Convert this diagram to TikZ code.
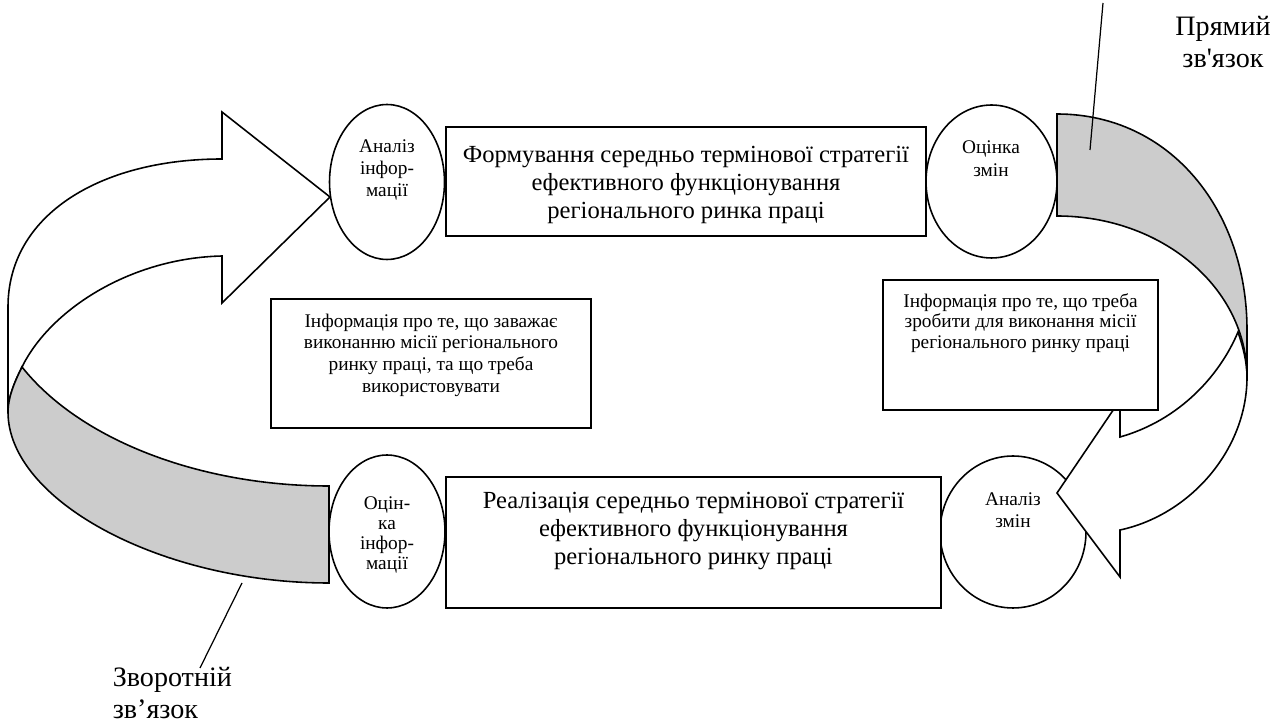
\documentclass[tikz,border=0pt]{standalone}
\usepackage{fontspec}
\setmainfont{Liberation Serif}
\usetikzlibrary{shapes.geometric}

\begin{document}
\begin{tikzpicture}[x=0.02cm, y=-0.02cm, line width=0.9pt,
    oval/.style={draw, ellipse, fill=white, inner sep=0pt},
    frame/.style={draw, rectangle, fill=white, inner sep=0pt},
    arrowbody/.style={draw, fill=white},
    band/.style={draw, fill=black!20},
    bigtext/.style={align=center, inner sep=0pt, font=\fontsize{14}{16}\selectfont},
    smalltext/.style={align=center, inner sep=0pt, font=\fontsize{11}{12.3}\selectfont},
    labeltext/.style={inner sep=0pt, font=\fontsize{16}{18}\selectfont}]
      \useasboundingbox (0,0) rectangle (1275,722);

      \draw[arrowbody] (8,412) -- (8,307) .. controls (8,215) and (100,159) .. (222,159)
        -- (222,112) -- (330,197) -- (222,303) -- (222,256)
        .. controls (130,258) and (50,310) .. (22,367)
        .. controls (14,383) and (8,398) .. (8,412) -- cycle;
      \draw[band] (22,367) .. controls (80,440) and (200,486) .. (329,486) -- (329,583)
        .. controls (160,583) and (8,500) .. (8,412)
        .. controls (8,398) and (14,383) .. (22,367) -- cycle;

      \node[oval, minimum width=2.92cm, minimum height=3.04cm] (anz) at (1013,532) {};
      \draw[arrowbody] (1238,332) .. controls (1243,347) and (1247,362) .. (1247,377)
        .. controls (1247,450) and (1190,515) .. (1120,530)
        -- (1120,577) -- (1057,493) -- (1120,400) -- (1120,437)
        .. controls (1180,420) and (1220,375) .. (1238,332) -- cycle;
      \draw[band] (1057,114) .. controls (1170,114) and (1247,210) .. (1247,330) -- (1247,377)
        .. controls (1247,288) and (1162,216) .. (1057,216) -- cycle;

      \node[oval, minimum width=2.3cm, minimum height=3.1cm] (anin) at (387,182) {};
      \node[oval, minimum width=2.62cm, minimum height=3.06cm] (ocz) at (991.5,181.5) {};
      \node[oval, minimum width=2.32cm, minimum height=3.06cm] (ocin) at (387,531.5) {};

      \node[frame, minimum width=9.6cm, minimum height=2.18cm] (form) at (686,181.5) {};
      \node[frame, minimum width=9.9cm, minimum height=2.62cm] (real) at (693.5,542.5) {};
      \node[frame, minimum width=6.4cm, minimum height=2.58cm] (hinder) at (431,363.5) {};
      \node[frame, minimum width=5.5cm, minimum height=2.6cm] (todo) at (1020.5,345) {};

      \node[bigtext] (formtext) at (686,185) {Формування середньо термінової стратегії\\ефективного функціонування\\регіонального ринка праці};
      \node[bigtext] (realtext) at (693.5,531) {Реалізація середньо термінової стратегії\\ефективного функціонування\\регіонального ринку праці};
      \node[smalltext] (hindertext) at (431,355) {Інформація про те, що заважає\\виконанню місії регіонального\\ринку праці, та що треба\\використовувати};
      \node[smalltext, font=\fontsize{11}{11.7}\selectfont] (todotext) at (1020.5,323) {Інформація про те, що треба\\зробити для виконання місії\\регіонального ринку праці};

      \node[smalltext, font=\fontsize{11}{12.5}\selectfont] (anintext) at (387,170) {Аналіз\\інфор-\\мації};
      \node[smalltext, font=\fontsize{11}{13}\selectfont] (ocztext) at (991,159) {Оцінка\\змін};
      \node[smalltext, font=\fontsize{11}{11.5}\selectfont] (ocintext) at (387,535) {Оцін-\\ка\\інфор-\\мації};
      \node[smalltext, font=\fontsize{11}{12.5}\selectfont] (anztext) at (1013,510) {Аналіз\\змін};

      \node[labeltext, align=center] (fwdlabel) at (1223,42) {Прямий\\зв\textquotesingle язок};
      \node[labeltext, align=left, anchor=west] (backlabel) at (112,693) {Зворотній\\зв’язок};

      \coordinate (fwdtop) at (1103,3);
      \coordinate (fwdtip) at (1090,150);
      \coordinate (backtip) at (242,583);
      \coordinate (backfoot) at (200,668);
      \begin{scope}[line width=0.7pt]
        \draw (fwdtop) to (fwdtip);
        \draw (backtip) to (backfoot);
      \end{scope}
    \end{tikzpicture}
\end{document}
